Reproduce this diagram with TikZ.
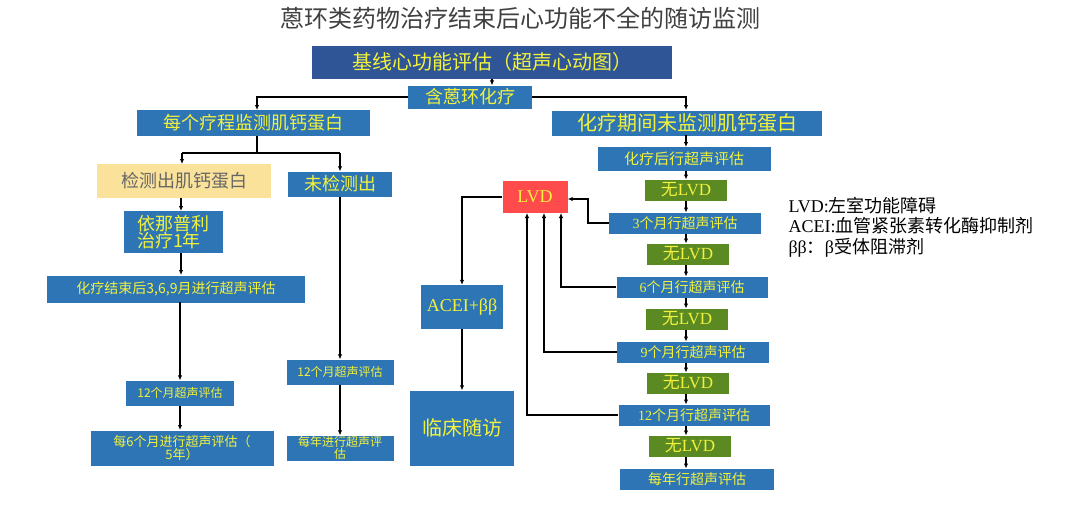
\documentclass[tikz,border=0pt]{standalone}
\usepackage{fontspec}
\setmainfont{Noto Sans CJK SC}
\newfontfamily\tm{Liberation Serif}
\usetikzlibrary{arrows.meta}
\definecolor{bl}{HTML}{2E75B6}
\definecolor{dbl}{HTML}{2F5597}
\definecolor{yl}{HTML}{F2F23C}
\definecolor{gr}{HTML}{5B8A22}
\definecolor{rd}{HTML}{FF4B4B}
\definecolor{lyel}{HTML}{FBE29B}
\newcommand{\fs}[1]{\fontsize{#1}{#1}\selectfont}
\newcommand{\noL}{\fs{17}无{\tm LVD}}
\begin{document}
\begin{tikzpicture}[x=1pt,y=-1pt,
  bx/.style={fill=bl,text=yl,inner sep=0pt,anchor=center},
  gbx/.style={fill=gr,text=yl,inner sep=0pt,anchor=center,minimum width=82,minimum height=21},
  ar/.style={line width=1.2pt,-{Latex[length=5pt,width=4.5pt]}},
  ln/.style={line width=1.2pt}]
\useasboundingbox (0,0) rectangle (1080,509);
\node[text=black!75] (title) at (520,18) {\fs{24}蒽环类药物治疗结束后心功能不全的随访监测};
\node[bx,fill=dbl,minimum width=360,minimum height=33] (base) at (492,62) {\fs{20}基线心功能评估（超声心动图）};
\node[bx,minimum width=124,minimum height=23] (anth) at (470,97) {\fs{18}含蒽环化疗};
\node[bx,minimum width=233,minimum height=26] (each) at (253,123) {\fs{18}每个疗程监测肌钙蛋白};
\node[bx,minimum width=270,minimum height=25] (nomon) at (687,123) {\fs{20}化疗期间未监测肌钙蛋白};
\node[bx,fill=lyel,text=black!60,minimum width=174,minimum height=34] (det) at (184,181) {\fs{18}检测出肌钙蛋白};
\node[bx,minimum width=104,minimum height=25] (ndet) at (340,184) {\fs{18}未检测出};
\node[bx,minimum width=99,minimum height=42,align=left] (ena) at (173,232) {\fs{18}依那普利\\[-1pt]\fs{18}治疗1年};
\node[bx,minimum width=258,minimum height=27] (after) at (176,289) {\fs{14}化疗结束后3,6,9月进行超声评估};
\node[bx,minimum width=108,minimum height=25] (l12) at (180,393) {\fs{12}12个月超声评估};
\node[bx,minimum width=183,minimum height=35,align=center] (l6) at (182,448) {\fs{13}每6个月进行超声评估（\\\fs{13}5年）};
\node[bx,minimum width=107,minimum height=25] (m12) at (340,372) {\fs{12}12个月超声评估};
\node[bx,minimum width=107,minimum height=25,align=center] (my) at (340,448) {\fs{12}每年进行超声评\\\fs{12}估};
\node[bx,fill=rd,minimum width=65,minimum height=32] (lvd) at (535,197) {\tm\fs{18}LVD};
\node[bx,minimum width=82,minimum height=44] (acei) at (462,307) {\tm\fs{18}ACEI+ββ};
\node[bx,minimum width=104,minimum height=75] (clin) at (462,428) {\fs{20}临床随访};
\node[bx,minimum width=173,minimum height=24] (r0) at (684,159) {\fs{15}化疗后行超声评估};
\node[gbx] (g1) at (686,190) {\noL};
\node[bx,minimum width=152,minimum height=21] (r3) at (685,223) {\fs{14}{\tm 3}个月行超声评估};
\node[gbx] (g2) at (688,254) {\noL};
\node[bx,minimum width=151,minimum height=21] (r6) at (692,287) {\fs{14}{\tm 6}个月行超声评估};
\node[gbx] (g3) at (687,319) {\noL};
\node[bx,minimum width=152,minimum height=21] (r9) at (693,352) {\fs{14}{\tm 9}个月行超声评估};
\node[gbx] (g4) at (688,383) {\noL};
\node[bx,minimum width=151,minimum height=21] (r12) at (694,415) {\fs{14}{\tm 12}个月行超声评估};
\node[gbx] (g5) at (690,446) {\noL};
\node[bx,minimum width=154,minimum height=21] (ry) at (697,479) {\fs{14}每年行超声评估};
\node[anchor=west,align=left,text=black] (leg) at (785,227) {\fs{18}{\tm LVD:}左室功能障碍\\[3pt]\fs{18}{\tm ACEI:}血管紧张素转化酶抑制剂\\[3pt]\fs{18}{\tm ββ}：{\tm β}受体阻滞剂};
% tree
\draw[ar] (base.south) -- (base.south |- anth.north);
\draw[ar] (anth.west) -| (257,110);
\draw[ar] (anth.east) -| (686,110);
\draw[ln] (257,136) -- (257,153);
\draw[ln] (182,153) -- (340,153);
\draw[ar] (340,153) -- (ndet.north);
\draw[ar] (182,153) -- (182,164);
\draw[ar] (181,198) -- (181,211);
\draw[ar] (181,253) -- (181,275);
\draw[ar] (180,302) -- (l12.north);
\draw[ar] (l12.south) -- (180,430);
\draw[ar] (ndet.south) -- (m12.north);
\draw[ar] (m12.south) -- (my.north);
\draw[ar] (686,135) -- (686,147);
\draw[ar] (686,171) -- (686,179.5);
\draw[ar] (686,200.5) -- (686,212.5);
\draw[ar] (686,233.5) -- (686,243.5);
\draw[ar] (686,264.5) -- (686,276.5);
\draw[ar] (686,297.5) -- (686,308.5);
\draw[ar] (686,329.5) -- (686,341.5);
\draw[ar] (686,362.5) -- (686,372.5);
\draw[ar] (686,393.5) -- (686,404.5);
\draw[ar] (686,425.5) -- (686,435.5);
\draw[ar] (686,456.5) -- (686,468.5);
% feedback
\draw[ar] (r3.west) -| (588,199) -- (lvd.east |- 0,199);
\draw[ar] (r6.west) -| (561,213);
\draw[ar] (r9.west) -| (544,213);
\draw[ar] (r12.west) -| (527,213);
\draw[ar] (lvd.west) -| (acei.north);
\draw[ar] (acei.south) -- (clin.north);
\end{tikzpicture}
\end{document}
